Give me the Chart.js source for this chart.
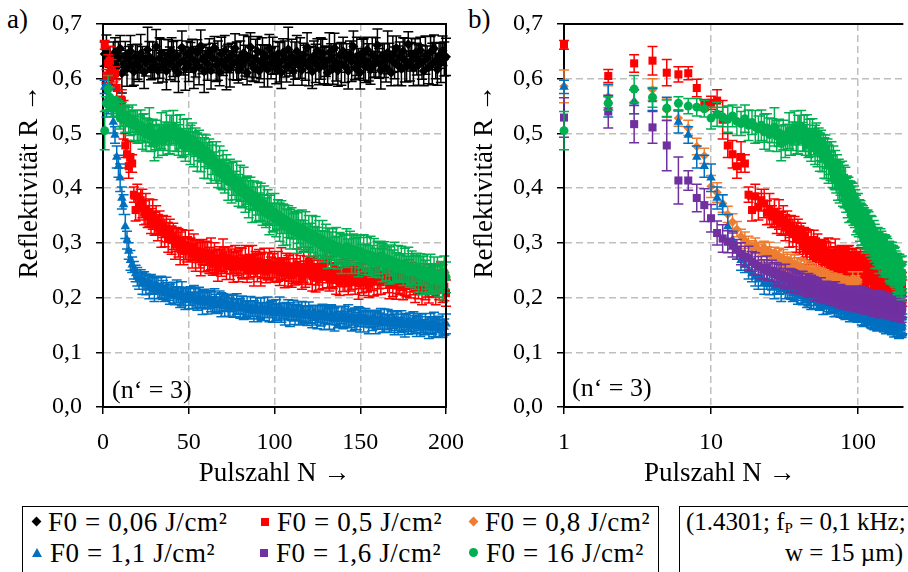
<!DOCTYPE html>
<html><head><meta charset="utf-8">
<script src="https://cdn.jsdelivr.net/npm/chart.js@4/dist/chart.umd.min.js"></script>
<style>
html,body{margin:0;padding:0;background:#fff;width:908px;height:572px;overflow:hidden;}
body{position:relative;font-family:'Liberation Serif';color:#000;}
canvas{position:absolute;top:0;}
#cA{left:0;} #cB{left:460px;}
.tag{position:absolute;top:4px;font-size:27px;line-height:30px;}
#legend{position:absolute;left:22px;top:506px;width:637px;height:72px;border:1px solid #000;box-sizing:border-box;}
.item{position:absolute;font-size:27px;line-height:30px;white-space:nowrap;letter-spacing:0.6px;}
.mk{display:inline-block;vertical-align:middle;margin-right:8px;position:relative;top:-3px;}
.dia{width:7px;height:7px;transform:rotate(45deg);}
.sq{width:8px;height:8px;}
.tri{width:0;height:0;border-left:5px solid transparent;border-right:5px solid transparent;border-bottom:9px solid #0070C0;}
.cir{width:9px;height:9px;border-radius:50%;}
#info{position:absolute;left:679px;top:506px;width:240px;height:72px;border:1px solid #000;box-sizing:border-box;font-size:25px;line-height:30px;}
#info .l1{position:absolute;left:6px;top:0;white-space:nowrap;}
#info .l2{position:absolute;left:0;width:223px;top:31px;text-align:right;white-space:nowrap;}
#info sub{font-size:15px;vertical-align:-3px;line-height:0;}
</style>
</head><body>
<div class="tag" style="left:7px">a)</div>
<div class="tag" style="left:468px">b)</div>
<canvas id="cA" width="470" height="500"></canvas>
<canvas id="cB" width="448" height="500"></canvas>
<div id="legend">
  <div class="item" style="left:10px;top:0"><span class="mk dia" style="background:#000"></span><span id="t0"></span></div>
  <div class="item" style="left:238px;top:0"><span class="mk sq" style="background:#FF0000"></span><span id="t1"></span></div>
  <div class="item" style="left:447px;top:0"><span class="mk dia" style="background:#ED7D31"></span><span id="t2"></span></div>
  <div class="item" style="left:9px;top:31px"><span class="mk tri"></span><span id="t3"></span></div>
  <div class="item" style="left:237px;top:31px"><span class="mk sq" style="background:#7030A0"></span><span id="t4"></span></div>
  <div class="item" style="left:446px;top:31px"><span class="mk cir" style="background:#00B050"></span><span id="t5"></span></div>
</div>
<div id="info"><div class="l1">(1.4301; f<sub>P</sub> = 0,1 kHz;</div><div class="l2">w = 15 µm)</div></div>
<script>
// ---- categories / labels ----
const pulseNumbers = Array.from({length: 200}, (_, i) => i + 1);
const seriesLabels = ['F0 = 0,06 J/cm²','F0 = 0,5 J/cm²','F0 = 0,8 J/cm²','F0 = 1,1 J/cm²','F0 = 1,6 J/cm²','F0 = 16 J/cm²'];
const yTickValues = [0,0.1,0.2,0.3,0.4,0.5,0.6,0.7];
const yTickLabels = ['0,0','0,1','0,2','0,3','0,4','0,5','0,6','0,7'];
const xTicksLinear = [0,50,100,150,200];
const xTicksLog = [1,10,100];
const noteText = '(n‘ = 3)';

// ---- reflectivity (x1000), N = 1..200 ----
const r006 = [
645,652,628,640,615,633,648,621,638,655,610,627,642,619,636,650,624,613,641,631,
622,646,637,612,629,653,640,618,634,626,659,615,638,647,623,632,614,644,628,651,
636,620,642,611,629,657,633,618,645,626,639,652,617,631,648,622,660,635,613,641,
627,649,615,638,656,624,633,612,645,629,651,620,637,618,643,628,655,632,616,640,
624,647,633,611,640,658,626,619,637,650,614,631,646,623,639,617,655,628,642,634,
619,645,630,612,648,636,621,654,627,641,614,633,650,625,638,616,644,629,657,622,
635,613,642,628,651,619,637,646,624,632,611,648,639,621,656,630,615,643,627,650,
623,638,614,645,632,659,620,641,628,612,647,635,622,653,630,617,644,626,639,661,
628,615,642,633,620,648,637,611,645,629,656,624,640,618,650,634,622,663,631,644,
619,647,636,625,652,630,614,643,638,621,649,627,655,633,617,642,629,651,636,640];
const r05 = [
662,605,628,633,611,608,610,583,552,556,560,525,478,462,440,457,445,388,360,385,
366,378,372,355,362,348,355,340,352,335,342,328,336,320,330,318,325,310,322,305,
312,298,306,300,290,303,285,296,288,294,287,280,292,276,285,279,270,283,274,281,
275,268,280,262,273,266,258,271,264,277,268,259,272,261,266,255,270,262,258,267,
263,256,269,252,264,258,270,249,261,255,266,250,259,263,248,257,262,251,254,260,
250,257,246,262,252,244,258,249,255,241,253,247,259,245,251,238,256,243,250,265,
248,240,254,236,246,243,252,238,259,266,244,233,247,239,251,235,242,230,245,238,
234,246,229,240,237,250,231,243,226,239,235,228,244,232,225,240,236,229,248,233,
241,228,262,270,246,232,224,238,230,243,222,235,227,240,219,233,226,244,221,237,
229,218,236,224,232,215,241,220,228,213,234,222,230,211,225,217,236,214,220,208];
const r08 = [
586,567,558,580,543,528,510,476,459,403,392,372,352,338,325,312,305,298,292,295,
288,283,291,279,285,274,280,270,276,266,272,262,268,259,265,255,262,252,258,250,
256,247,253,245,251,243,249,240,247,238,245,236,243,235,241,233,240,231,238,230,
236,228,235,227,233,226,232,224,230,223,229,222,228,221,227,220,226,219,225,218,
224,217,223,216,222,215,221,214,220,213,219,235,218,212,217,228,216,211,215,232];
const r11 = [
585,560,558,562,548,521,497,457,440,419,382,370,330,305,285,268,260,250,244,238,
233,236,226,231,224,228,219,225,221,215,223,217,212,219,214,208,216,211,206,213,
209,203,211,205,200,207,202,197,205,199,203,195,201,198,193,200,196,191,198,194,
190,197,192,188,195,189,186,193,187,191,184,190,186,182,189,185,181,188,184,180,
186,181,179,184,177,182,180,175,183,178,176,181,174,179,177,182,173,178,175,171,
177,174,180,172,176,170,175,178,169,173,176,168,174,171,167,175,170,172,166,173,
169,165,172,168,164,170,167,171,163,168,165,162,169,166,160,167,164,161,168,163,
165,160,166,162,158,164,161,157,165,159,162,156,163,160,155,161,158,162,154,159,
157,161,153,158,155,160,152,156,159,151,157,154,150,158,153,149,156,152,155,148,
154,151,147,155,150,153,146,152,149,145,153,148,151,144,150,147,143,149,146,152];
const r16 = [
529,540,517,511,478,414,414,382,369,345,318,308,302,296,288,280,275,272,266,262,
258,255,251,254,247,249,243,246,240,242,237,239,234,236,231,233,229,231,226,228,
225,227,222,224,220,222,218,221,216,219,215,217,213,216,212,214,211,213,209,212,
210,212,208,211,207,209,206,208,205,207,204,206,203,205,202,204,201,203,200,202,
200,202,199,201,198,200,197,199,196,198,196,198,195,197,194,196,194,196,193,195,
199,196,201,195,198,194,200,193,197,195,192,198,194,191,197,193,196,190,195,192,
194,190,196,191,189,195,192,188,194,190,193,187,191,189,194,186,192,188,190,185,
191,187,193,186,189,185,192,188,184,190,186,189,183,188,185,191,184,187,182,189,
186,183,188,181,185,187,182,186,180,184,188,181,185,179,183,186,180,184,178,182,
185,179,183,186,178,182,184,177,181,185,179,183,176,180,184,178,182,175,180,183];
const r160 = [
505,555,581,566,546,555,550,548,545,528,535,530,526,532,522,518,527,515,520,512,
508,515,503,510,498,505,512,495,501,482,497,486,493,505,488,495,510,491,498,506,
512,494,500,488,503,481,492,476,497,485,479,490,471,484,466,478,461,473,455,468,
450,463,444,455,440,447,430,445,426,433,421,436,412,425,410,418,405,414,396,409,
392,402,387,396,380,391,375,386,370,381,366,374,360,371,355,366,351,361,346,356,
342,352,338,347,333,343,329,339,325,336,321,332,318,329,315,326,312,322,309,319,
306,316,303,312,299,309,296,306,293,303,290,300,287,297,285,294,282,291,280,289,
285,293,281,290,279,288,276,286,274,284,272,281,270,279,268,277,266,275,264,273,
268,276,264,273,262,270,259,268,257,265,255,263,253,261,251,259,249,257,247,255,
252,246,255,243,251,240,249,238,247,236,245,234,243,232,241,230,239,228,246,237];

// ---- standard deviations (x1000) ----
const e006 = [
22,28,31,19,25,34,27,21,30,24,36,20,26,33,23,29,38,25,21,32,
27,35,22,30,24,41,28,20,33,26,31,23,37,25,29,21,34,27,30,24,
32,25,28,36,22,30,26,39,24,31,27,20,35,28,23,33,29,26,38,22,
30,24,34,27,21,29,36,25,31,23,28,40,26,33,22,30,27,35,24,29,
25,33,28,22,37,26,30,24,35,27,21,31,29,38,23,32,26,28,34,25,
28,23,36,30,25,33,27,40,22,31,26,34,29,24,37,28,21,32,27,35,
24,31,27,35,22,30,38,26,33,28,23,36,25,31,27,34,29,22,39,26,
30,26,33,24,37,28,22,35,27,31,25,38,29,23,34,27,32,24,36,30,
27,34,23,31,26,39,28,24,33,29,22,36,27,31,25,40,28,23,35,30,
32,26,29,37,24,31,27,35,22,30,28,38,25,33,29,23,36,27,31,34];
const e05 = [
8,12,16,26,24,14,12,16,10,12,20,35,22,25,22,28,16,14,20,22,
24,20,26,22,28,20,25,23,27,21,26,24,22,28,20,25,23,27,21,26,
24,28,22,26,30,21,25,27,23,29,22,26,24,28,21,25,30,23,27,22,
26,24,29,21,27,23,28,22,25,30,24,26,21,28,23,27,25,22,29,24,
27,22,26,24,30,21,25,28,23,26,22,29,24,27,21,25,28,23,26,24,
22,27,24,29,21,26,23,28,25,22,27,24,30,21,26,23,28,24,25,27,
24,28,21,26,23,29,25,22,27,24,26,21,28,23,25,29,22,26,24,27,
23,26,24,28,22,27,25,21,29,23,26,24,28,22,25,27,23,26,21,28,
25,22,27,24,29,23,26,21,28,24,25,27,22,26,23,29,24,25,22,27,
24,27,22,26,25,28,21,24,27,23,26,22,28,24,25,21,27,23,26,24];
const e08 = [
30,20,22,20,20,15,14,15,14,20,18,16,15,15,14,13,15,14,12,14,
13,15,12,14,16,13,12,15,14,13,16,12,15,13,14,12,16,13,15,12,
14,12,15,13,16,12,14,13,15,12,13,16,12,14,13,15,12,14,13,16,
12,15,13,14,12,16,13,15,12,14,13,12,15,14,13,16,12,15,13,14,
15,13,12,16,14,13,15,12,14,13,16,12,14,15,13,12,16,14,13,15];
const e11 = [
12,30,22,20,18,20,15,20,20,25,20,18,22,16,15,18,14,16,15,17,
18,15,20,16,19,14,21,17,15,22,16,19,14,20,17,15,21,16,18,14,
19,16,21,15,18,22,16,19,14,20,17,15,21,18,16,19,14,22,17,15,
20,16,18,14,21,17,15,19,22,16,18,14,20,17,15,21,16,19,14,18,
17,21,15,18,16,20,14,19,17,22,15,18,16,21,14,19,17,15,20,16,
19,15,21,17,14,20,16,18,22,15,19,17,14,21,16,18,15,20,17,19,
16,20,14,18,21,15,19,17,22,16,14,20,18,15,21,17,19,14,16,20,
18,15,21,17,19,14,20,16,18,22,15,19,17,14,21,16,18,15,20,17,
15,19,17,21,14,18,16,20,15,19,17,22,14,18,16,21,15,19,17,14,
20,16,18,15,21,17,14,19,16,20,18,15,22,17,14,19,16,21,15,18];
const e16 = [
36,30,34,29,46,43,18,25,30,25,22,25,20,22,18,20,19,22,18,20,
17,20,18,22,16,19,21,17,20,18,16,22,19,17,21,18,20,16,19,17,
18,21,16,19,17,22,18,20,16,19,21,17,18,20,16,22,19,17,20,18,
20,17,19,16,21,18,20,17,19,22,16,18,21,17,19,20,16,18,21,19,
17,19,21,16,18,20,17,22,19,16,18,21,17,19,20,16,18,22,17,19,
19,16,20,18,17,21,19,16,18,20,22,17,19,16,21,18,17,20,19,16,
18,20,17,19,21,16,18,22,17,19,20,16,18,21,17,19,16,20,18,22,
20,17,19,16,18,21,17,20,19,16,22,18,17,20,19,16,21,18,20,17,
17,21,18,20,16,19,22,17,18,21,16,20,19,17,18,22,16,19,21,18,
19,16,18,21,17,20,16,19,22,18,17,20,16,19,21,17,18,20,16,19];
const e160 = [
35,12,25,18,15,12,14,16,15,20,22,18,24,20,26,22,25,28,22,30,
24,28,32,26,30,22,35,28,25,32,27,30,24,33,28,26,31,29,35,27,
30,26,33,28,31,25,34,27,30,24,36,29,32,26,35,28,31,25,37,29,
33,27,35,30,26,38,29,32,27,36,30,25,34,28,37,31,26,35,29,33,
28,36,31,26,34,29,38,27,32,30,25,35,28,33,27,31,36,29,26,34,
31,27,35,30,38,26,33,29,36,28,32,25,37,30,27,34,29,35,26,31,
30,34,27,36,29,32,26,35,28,31,37,27,33,29,25,34,30,28,36,27,
29,33,26,31,35,28,32,27,36,30,25,34,28,31,27,35,29,33,26,30,
32,27,35,29,31,26,34,28,30,36,27,32,25,33,29,31,27,35,28,30,
28,31,26,33,29,35,27,30,32,26,34,28,31,25,33,29,27,32,30,28];

const COLORS = ['#000000','#FF0000','#ED7D31','#0070C0','#7030A0','#00B050'];
const FONT = "'Liberation Serif'";

seriesLabels.forEach((t, i) => { document.getElementById('t' + i).textContent = t; });

function series(idx, vals, errs, style, radius, order) {
  return {
    label: seriesLabels[idx],
    data: vals.map((v, i) => ({x: pulseNumbers[i], y: v / 1000})),
    errors: errs.map(e => e / 1000),
    pointStyle: style, pointRadius: radius, pointHoverRadius: radius,
    backgroundColor: COLORS[idx], borderColor: COLORS[idx],
    pointBorderWidth: 0, showLine: false, clip: false, order
  };
}

const errorBars = {
  id: 'errorBars',
  beforeDatasetDraw(chart, args) {
    const ds = chart.data.datasets[args.index];
    if (!ds.errors) return;
    const ys = chart.scales.y, ctx = chart.ctx;
    ctx.save();
    ctx.strokeStyle = ds.borderColor;
    ctx.lineWidth = 1.5;
    ctx.beginPath();
    args.meta.data.forEach((pt, i) => {
      const e = ds.errors[i];
      if (e === undefined) return;
      const v = ds.data[i].y;
      const yt = ys.getPixelForValue(v + e), yb = ys.getPixelForValue(v - e);
      ctx.moveTo(pt.x, yt); ctx.lineTo(pt.x, yb);
      ctx.moveTo(pt.x - 5, yt); ctx.lineTo(pt.x + 5, yt);
      ctx.moveTo(pt.x - 5, yb); ctx.lineTo(pt.x + 5, yb);
    });
    ctx.stroke();
    ctx.restore();
  }
};

const frame = {
  id: 'frame',
  afterDraw(chart, args, opts) {
    const {ctx, chartArea: a} = chart;
    ctx.save();
    ctx.strokeStyle = '#000'; ctx.lineWidth = 2;
    ctx.beginPath();
    ctx.moveTo(a.left - 1, a.top); ctx.lineTo(a.right + 1, a.top);
    if (opts.right) { ctx.moveTo(a.right, a.top); ctx.lineTo(a.right, a.bottom + 1); }
    ctx.stroke();
    ctx.fillStyle = '#000';
    ctx.font = "26px 'Liberation Serif'";
    ctx.textBaseline = 'alphabetic';
    ctx.fillText(noteText, a.left + opts.dx, a.bottom - opts.dy);
    ctx.restore();
  }
};

function zeroPad(s) { s.paddingLeft = 0; s.paddingRight = 0; s.paddingTop = 0; s.paddingBottom = 0; }
const gridOpts = {color: '#bfbfbf', lineWidth: 1.5, tickColor: '#000', tickWidth: 1.5, tickLength: 7, tickBorderDash: []};
const borderOpts = {display: true, color: '#000', width: 2, dash: [7, 4]};

function yScale(width, titlePad) {
  return {
    type: 'linear', min: 0, max: 0.7,
    afterBuildTicks(s) { s.ticks = yTickValues.map(v => ({value: v})); },
    afterFit(s) { s.width = width; zeroPad(s); },
    ticks: {color: '#000', font: {family: FONT, size: 24}, padding: 14,
            callback: v => yTickLabels[Math.round(v * 10)]},
    grid: gridOpts, border: borderOpts,
    title: {display: true, text: '\u2003\u2003\u2002Reflektivität R →', color: '#000',
            font: {family: FONT, size: 27}, padding: {top: titlePad, bottom: 0}}
  };
}
function xScale(type, min, max, ticks, titleText) {
  return {
    type, min, max,
    afterBuildTicks(s) { s.ticks = ticks.map(v => ({value: v})); },
    afterFit(s) { s.height = 93; zeroPad(s); },
    ticks: {color: '#000', font: {family: FONT, size: 24}, padding: 14, maxRotation: 0, autoSkip: false,
            callback: v => String(v)},
    grid: gridOpts, border: borderOpts,
    title: {display: true, text: titleText, color: '#000',
            font: {family: FONT, size: 27}, padding: {top: 0, bottom: 10}}
  };
}
function baseOptions(pad, frameOpts, xs, ys) {
  return {
    responsive: false, animation: false, devicePixelRatio: 1, events: [],
    layout: {padding: pad},
    plugins: {legend: {display: false}, tooltip: {enabled: false}, frame: frameOpts},
    scales: {x: xs, y: ys}
  };
}

new Chart(document.getElementById('cA'), {
  type: 'scatter',
  data: {datasets: [
    series(0, r006, e006, 'rectRot', 5, 5),
    series(1, r05, e05, 'rect', 5.7, 4),
    series(3, r11, e11, 'triangle', 5.5, 2),
    series(5, r160, e160, 'circle', 4.5, 0)
  ]},
  options: baseOptions({left: 0, top: 24, right: 24, bottom: 0}, {right: true, dx: 9, dy: 9},
    xScale('linear', 0, 200, xTicksLinear, 'Pulszahl N →'), yScale(103, 14)),
  plugins: [errorBars, frame]
});

new Chart(document.getElementById('cB'), {
  type: 'scatter',
  data: {datasets: [
    series(1, r05, e05, 'rect', 5.7, 4),
    series(2, r08, e08, 'rectRot', 4.7, 3),
    series(3, r11, e11, 'triangle', 5.5, 2),
    series(4, r16, e16, 'rect', 5.7, 1),
    series(5, r160, e160, 'circle', 4.5, 0)
  ]},
  options: baseOptions({left: 0, top: 24, right: 0, bottom: 0}, {right: false, dx: 8, dy: 11},
    xScale('logarithmic', 1, 200, xTicksLog, 'Pulszahl N →\u2003'), yScale(104, 9)),
  plugins: [errorBars, frame]
});
</script>
</body></html>
